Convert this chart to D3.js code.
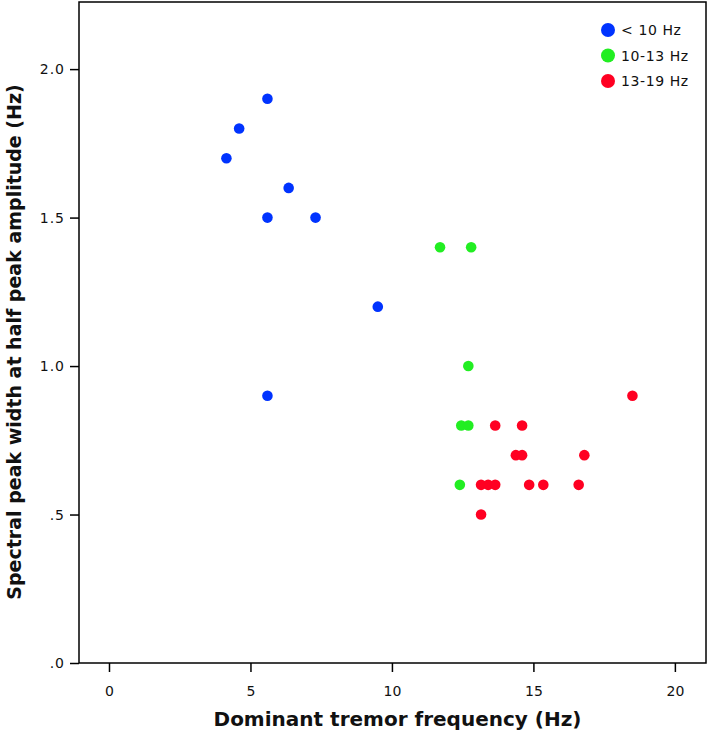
<!DOCTYPE html>
<html><head><meta charset="utf-8">
<script src="https://cdn.jsdelivr.net/npm/d3@7"></script>
<style>body{margin:0;background:#fff}svg{display:block}text{font-family:"DejaVu Sans",sans-serif}</style>
</head><body>
<svg id="c" width="708" height="738"></svg>
<script>
const groups = ["< 10 Hz", "10-13 Hz", "13-19 Hz"];
const groupColors = ["#0033ff", "#22ee22", "#ff0022"];
const blueX = [5.6, 4.6, 4.15, 6.35, 5.6, 7.3, 9.5, 5.6];
const blueY = [1.9, 1.8, 1.7, 1.6, 1.5, 1.5, 1.2, 0.9];
const greenX = [11.7, 12.8, 12.7, 12.45, 12.7, 12.4];
const greenY = [1.4, 1.4, 1.0, 0.8, 0.8, 0.6];
const redX = [13.65, 14.6, 14.38, 14.6, 16.8, 13.15, 13.4, 13.65, 14.85, 15.35, 16.6, 13.15, 18.5];
const redY = [0.8, 0.8, 0.7, 0.7, 0.7, 0.6, 0.6, 0.6, 0.6, 0.6, 0.6, 0.5, 0.9];
const xTicks = [0, 5, 10, 15, 20];
const yTicks = [0, 0.5, 1.0, 1.5, 2.0];
const yTickLabels = [".0", ".5", "1.0", "1.5", "2.0"];

const svg = d3.select("#c");
const L = 79, R = 706, T = 2, B = 663;
const x = d3.scaleLinear().domain([-1.06, 21.1]).range([L, R]);
const y = d3.scaleLinear().domain([0, 2.226]).range([B, T]);

// frame
svg.append("rect").attr("x", L).attr("y", T).attr("width", R - L).attr("height", B - T)
  .attr("fill", "none").attr("stroke", "#000").attr("stroke-width", 1.5);

const xAxis = svg.append("g").attr("transform", `translate(0,${B})`)
  .call(d3.axisBottom(x).tickValues(xTicks).tickSize(9).tickPadding(14).tickFormat(d3.format("d")));
xAxis.select(".domain").remove();
xAxis.selectAll("line").attr("stroke-width", 1.5);
xAxis.selectAll("text").attr("font-size", 14).attr("fill", "#111");

const yAxis = svg.append("g").attr("transform", `translate(${L},0)`)
  .call(d3.axisLeft(y).tickValues(yTicks).tickSize(9).tickPadding(5).tickFormat((d, i) => yTickLabels[i]));
yAxis.select(".domain").remove();
yAxis.selectAll("line").attr("stroke-width", 1.5);
yAxis.selectAll("text").attr("font-size", 14).attr("fill", "#111").attr("letter-spacing", 1);

const series = [[blueX, blueY], [greenX, greenY], [redX, redY]];
series.forEach(([xs, ys], gi) => {
  svg.append("g").selectAll("circle").data(xs.map((v, i) => [v, ys[i]])).join("circle")
    .attr("cx", d => x(d[0])).attr("cy", d => y(d[1])).attr("r", 5.3)
    .attr("fill", groupColors[gi]);
});

// legend
const lg = svg.append("g");
groups.forEach((g, i) => {
  lg.append("circle").attr("cx", 608).attr("cy", 30 + i * 25.5).attr("r", 7).attr("fill", groupColors[i]);
  lg.append("text").attr("x", 621).attr("y", 35 + i * 25.5).attr("font-size", 14).attr("fill", "#111")
    .attr("letter-spacing", 0.6).text(g);
});

svg.append("text").attr("x", (L + R) / 2 + 5).attr("y", 726).attr("text-anchor", "middle")
  .attr("font-size", 20).attr("font-weight", "bold").attr("fill", "#111").text("Dominant tremor frequency (Hz)");
svg.append("text").attr("transform", `translate(21,342) rotate(-90)`).attr("text-anchor", "middle")
  .attr("font-size", 19).attr("font-weight", "bold").attr("fill", "#111").text("Spectral peak width at half peak amplitude (Hz)");
</script>
</body></html>
